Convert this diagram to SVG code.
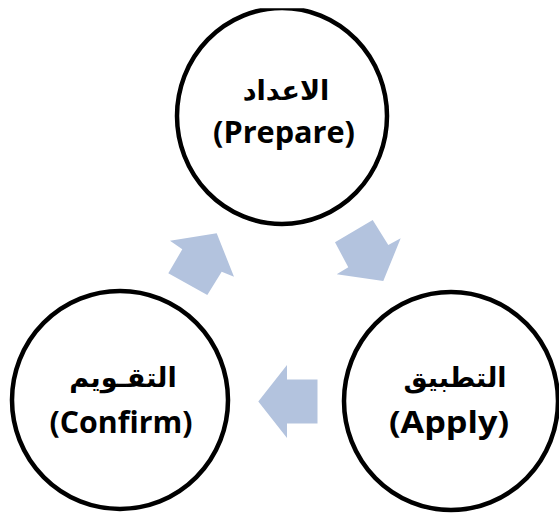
<svg xmlns="http://www.w3.org/2000/svg" width="559" height="517" viewBox="0 0 559 517">
<style>
.node{fill:#ffffff;stroke:#000000;stroke-width:4.5}
.en{font-family:"Open Sans","Noto Sans","Liberation Sans",sans-serif;font-weight:bold;font-size:30px;fill:#000;text-anchor:middle}
.ar{font-family:"DejaVu Sans","Noto Sans",sans-serif;font-weight:bold;font-size:27px;fill:#000;text-anchor:middle}
.arrow{fill:#B3C3DE;stroke:none}
</style>
<defs>
<clipPath id="topclip"><rect x="0" y="8.3" width="559" height="520"/></clipPath>
</defs>
<rect width="559" height="517" fill="#ffffff"/>
<g id="connectors">
<polygon class="arrow" points="170,240.7 216.7,233.3 234,276.7 221.7,271.7 207.3,295 168.3,273.3 182.3,249.3"/>
<polygon class="arrow" points="335,242.3 372.7,220 388.3,245 400.7,238.3 383.3,281 336.7,274.3 348.3,267.3"/>
<polygon class="arrow" points="258.3,401.5 287,365 287,379.5 317.5,379.5 317.5,423.5 287,423.5 287,438"/>
</g>
<g id="prepare">
<ellipse class="node" cx="282" cy="116" rx="105" ry="108" clip-path="url(#topclip)"/>
<text class="ar" x="286" y="100" direction="rtl">الاعداد</text>
<text class="en" x="284" y="143" textLength="142" lengthAdjust="spacingAndGlyphs">(Prepare)</text>
</g>
<g id="apply">
<ellipse class="node" cx="451" cy="401" rx="107" ry="109"/>
<text class="ar" x="455" y="387" direction="rtl">التطبيق</text>
<text class="en" x="449" y="433" textLength="120" lengthAdjust="spacingAndGlyphs">(Apply)</text>
</g>
<g id="confirm">
<ellipse class="node" cx="120" cy="400" rx="108" ry="109"/>
<text class="ar" x="123" y="387" direction="rtl">التقـويم</text>
<text class="en" x="121" y="433" textLength="143" lengthAdjust="spacingAndGlyphs">(Confirm)</text>
</g>
</svg>
